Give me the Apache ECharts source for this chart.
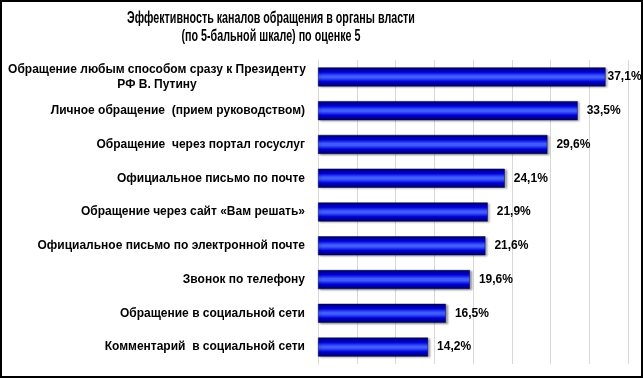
<!DOCTYPE html>
<html>
<head>
<meta charset="utf-8">
<script src="https://cdn.jsdelivr.net/npm/echarts@6/dist/echarts.min.js"></script>
<style>
  html, body { margin: 0; padding: 0; background: #fff; }
  #chart { width: 643px; height: 378px; }
</style>
</head>
<body>
<div id="chart"></div>
<script>
var titleText = 'Эффективность каналов обращения в органы власти\n(по 5-бальной шкале) по оценке 5';
var categories = [
    'Обращение любым способом сразу к Президенту\nРФ В. Путину',
    'Личное обращение  (прием руководством)',
    'Обращение  через портал госуслуг',
    'Официальное письмо по почте',
    'Обращение через сайт «Вам решать»',
    'Официальное письмо по электронной почте',
    'Звонок по телефону',
    'Обращение в социальной сети',
    'Комментарий  в социальной сети'
];
var values = [37.1, 33.5, 29.6, 24.1, 21.9, 21.6, 19.6, 16.5, 14.2];

var myChart = echarts.init(document.getElementById('chart'));

// объёмная заливка полос
var barColor = new echarts.graphic.LinearGradient(0, 0, 0, 1, [
    {offset: 0, color: '#00006e'},
    {offset: 0.25, color: '#0000d8'},
    {offset: 0.45, color: '#3f5cff'},
    {offset: 0.55, color: '#3f5cff'},
    {offset: 0.75, color: '#0000d8'},
    {offset: 1, color: '#00005a'}
]);

var seriesData = values.map(function (v, i) {
    var item = {value: v};
    if (i === 0) {
        item.label = {distance: 2};   // подпись прижата к краю
    }
    return item;
});

var font = '"Liberation Sans", Arial, sans-serif';

var option = {
    animation: false,
    graphic: [{
        type: 'rect',
        shape: {x: 1, y: 1, width: 641, height: 376},
        style: {fill: 'none', stroke: '#000', lineWidth: 2},
        silent: true
    }, {
        // заголовок узким шрифтом (сжатие по горизонтали)
        type: 'text',
        x: 271,
        y: 10,
        scaleX: 0.67,
        silent: true,
        style: {
            text: titleText,
            textAlign: 'center',
            fontFamily: font,
            fontSize: 16,
            fontWeight: 'bold',
            lineHeight: 18,
            fill: '#000'
        }
    }],
    grid: {
        left: 318,
        right: 15,
        top: 60,
        bottom: 14
    },
    xAxis: {
        type: 'value',
        min: 0,
        max: 40,
        interval: 5,
        axisLabel: {show: false},
        axisTick: {show: false},
        axisLine: {show: false},
        splitLine: {
            show: true,
            lineStyle: {color: '#d8d8d8', width: 1}
        }
    },
    yAxis: {
        type: 'category',
        inverse: true,
        data: categories,
        axisTick: {show: false},
        axisLine: {
            show: true,
            lineStyle: {color: '#d8d8d8'}
        },
        axisLabel: {
            margin: 13,
            fontFamily: font,
            fontSize: 12,
            fontWeight: 'bold',
            color: '#000',
            lineHeight: 15,
            formatter: function (val, idx) {
                if (idx === 0) {
                    return val.split('\n').map(function (s) { return '{c|' + s + '}'; }).join('\n');
                }
                return val;
            },
            rich: {
                c: {
                    width: 296,
                    align: 'center',
                    fontFamily: font,
                    fontSize: 12,
                    fontWeight: 'bold',
                    color: '#000',
                    lineHeight: 15
                }
            }
        }
    },
    series: [{
        type: 'bar',
        data: seriesData,
        barWidth: 19,
        itemStyle: {
            color: barColor,
            borderColor: '#000050',
            borderWidth: 0.5,
            shadowColor: 'rgba(0,0,0,0.35)',
            shadowBlur: 2,
            shadowOffsetX: 2,
            shadowOffsetY: 1
        },
        label: {
            show: true,
            position: 'right',
            distance: 9,
            formatter: function (p) {
                return p.value.toFixed(1).replace('.', ',') + '%';
            },
            fontFamily: font,
            fontSize: 12,
            fontWeight: 'bold',
            color: '#000'
        }
    }]
};
myChart.setOption(option);
</script>
</body>
</html>
